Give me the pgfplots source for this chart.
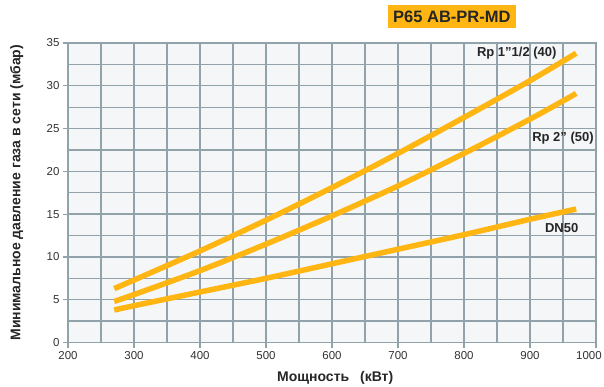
\documentclass[border=0pt]{standalone}
\usepackage{fontspec}
\setmainfont{Liberation Sans}
\usepackage{pgfplots}
\pgfplotsset{compat=1.18}

\definecolor{curve}{RGB}{255,182,18}
\definecolor{gridc}{RGB}{146,162,170}
\definecolor{plotbg}{RGB}{244,246,248}
\definecolor{ticktext}{RGB}{50,50,50}

\begin{document}
\begin{tikzpicture}
\begin{axis}[
    scale only axis,
    width=528pt, height=299.5pt,
    xmin=200, xmax=1000, ymin=0, ymax=35,
    xtick={200,300,...,1000}, ytick={0,5,...,35},
    xticklabels={200,300,400,500,600,700,800,900,{\hspace*{-14pt}1000}},
    minor x tick num=1, minor y tick num=1,
    grid=both,
    major grid style={gridc, line width=1.3pt},
    minor grid style={gridc, line width=1.3pt},
    axis background/.style={fill=plotbg},
    axis line style={gridc, line width=1.3pt},
    tick pos=left, tick align=outside,
    major tick length=5pt, minor tick length=0pt,
    tick style={gridc, line width=1.2pt},
    /pgf/number format/assume math mode=true,
    /pgf/number format/1000 sep={},
    ticklabel style={font=\fontsize{11.5}{13}\selectfont, text=ticktext},
    xlabel={Мощность\enspace\ (кВт)},
    ylabel={Минимальное давление газа в сети (мбар)},
    xlabel style={font=\bfseries\fontsize{14}{16}\selectfont, text=black!85, at={(axis description cs:0.506,-0.118)}, anchor=center},
    ylabel style={font=\bfseries\fontsize{14}{16}\selectfont, text=black!85, at={(axis description cs:-0.097,0.5)}, anchor=center},
    clip=false,
]
% Rp 1"1/2 (40)
\addplot[curve, line width=5.5pt, line cap=butt, smooth, no markers] coordinates {
    (270,6.3) (300,7.3) (400,10.7) (500,14.3) (600,18.1) (700,22.1) (800,26.3) (900,30.6) (970,33.8)
};
% Rp 2" (50)
\addplot[curve, line width=5.5pt, line cap=butt, smooth, no markers] coordinates {
    (270,4.8) (300,5.6) (400,8.4) (500,11.5) (600,14.8) (700,18.3) (800,22.1) (900,26.1) (970,29.1)
};
% DN50
\addplot[curve, line width=5.5pt, line cap=butt, smooth, no markers] coordinates {
    (270,3.8) (300,4.3) (400,5.9) (500,7.5) (600,9.2) (700,10.9) (800,12.6) (900,14.4) (970,15.6)
};
\node[font=\bfseries\fontsize{13}{15}\selectfont, text=black!85] at (axis cs:880,33.8) {Rp 1”1/2 (40)};
\node[font=\bfseries\fontsize{13}{15}\selectfont, text=black!85] at (axis cs:950,23.9) {Rp 2” (50)};
\node[font=\bfseries\fontsize{13}{15}\selectfont, text=black!85] at (axis cs:948,13.35) {DN50};
\node[fill=curve, text=black!85, font=\bfseries\fontsize{16.5}{18}\selectfont,
      minimum width=128pt, minimum height=23pt, inner sep=0pt]
      at (rel axis cs:0.727,1.088) {P65 AB-PR-MD};
\end{axis}
\pgfresetboundingbox
\path[use as bounding box] ([xshift=-68pt,yshift=-43.5pt]current axis.south west) rectangle ++(604pt,386pt);
\end{tikzpicture}
\end{document}
